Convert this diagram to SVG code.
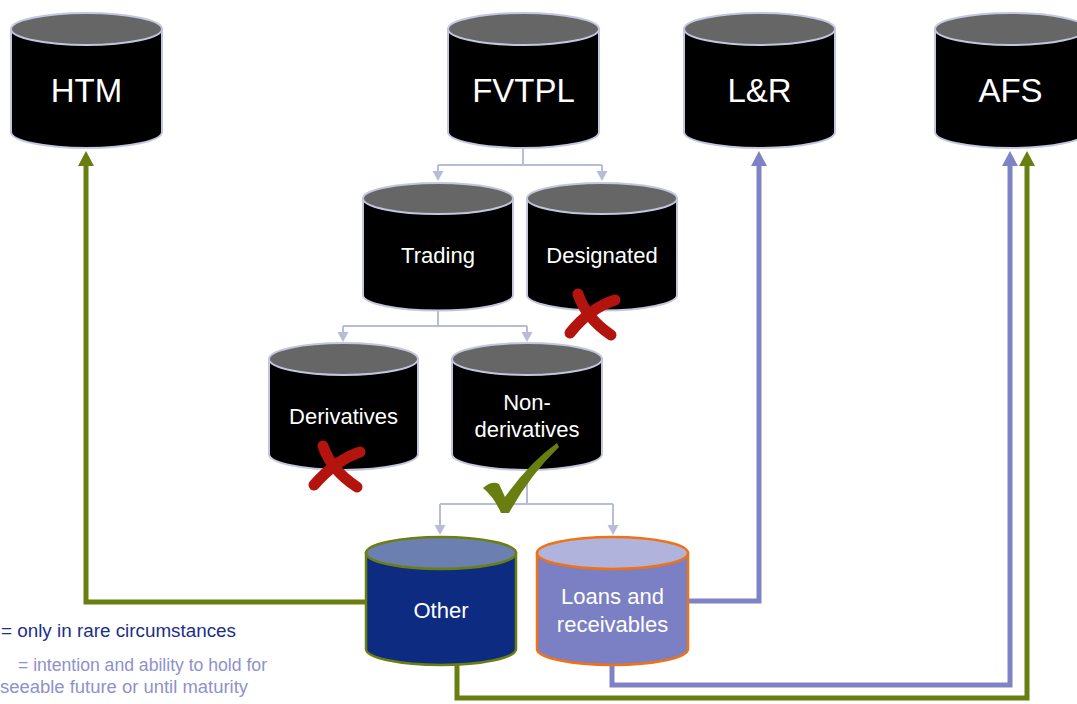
<svg xmlns="http://www.w3.org/2000/svg" width="1077" height="704" viewBox="0 0 1077 704">
<style>
.body{fill:#000;stroke:#c3c6de;stroke-width:2}
.top{fill:#666;stroke:#c3c6de;stroke-width:2}
.big{font-family:"Liberation Sans",Arial,sans-serif;font-size:33px;fill:#fff;text-anchor:middle}
.mid{font-family:"Liberation Sans",Arial,sans-serif;font-size:22px;fill:#fff;text-anchor:middle}
.thin{fill:none;stroke:#b9bcd9;stroke-width:2}
.green{fill:none;stroke:#697e10;stroke-width:5}
.purple{fill:none;stroke:#7e83c6;stroke-width:5}
.leg{font-family:"Liberation Sans",Arial,sans-serif;font-size:17.5px}
.cross{fill:none;stroke:#b3140d;stroke-width:11;stroke-linecap:round}
</style>
<defs>
<marker id="aThin" markerUnits="userSpaceOnUse" markerWidth="10" markerHeight="12" refX="0" refY="5.5" orient="auto" overflow="visible"><path d="M0,0 L10,5.5 L0,11 Z" fill="#b9bcd9"/></marker>
<marker id="aGreen" markerUnits="userSpaceOnUse" markerWidth="15" markerHeight="17" refX="0" refY="8" orient="auto" overflow="visible"><path d="M0,0 L15,8 L0,16 Z" fill="#697e10"/></marker>
<marker id="aPurple" markerUnits="userSpaceOnUse" markerWidth="15" markerHeight="17" refX="0" refY="8" orient="auto" overflow="visible"><path d="M0,0 L15,8 L0,16 Z" fill="#7e83c6"/></marker>
</defs>
<rect width="1077" height="704" fill="#fff"/>

<g id="connectors">
<path class="thin" d="M523,148 V165 M438,165 H602"/>
<path class="thin" d="M438,165 V171" marker-end="url(#aThin)"/>
<path class="thin" d="M602,165 V171" marker-end="url(#aThin)"/>
<path class="thin" d="M438,311 V326 M343,326 H527"/>
<path class="thin" d="M343,326 V332" marker-end="url(#aThin)"/>
<path class="thin" d="M527,326 V332" marker-end="url(#aThin)"/>
<path class="thin" d="M527,470 V504 M440,504 H613"/>
<path class="thin" d="M440,504 V525" marker-end="url(#aThin)"/>
<path class="thin" d="M613,504 V525" marker-end="url(#aThin)"/>
<path class="green" d="M366,602 H86 V166" marker-end="url(#aGreen)"/>
<path class="purple" d="M688,601 H759 V166" marker-end="url(#aPurple)"/>
<path class="purple" d="M612,665 V685 H1010 V166" marker-end="url(#aPurple)"/>
<path class="green" d="M457,665 V698 H1027 V166" marker-end="url(#aGreen)"/>
</g>

<g id="htm">
<path class="body" d="M11,29 V132 A75.5,16 0 0 0 162,132 V29 Z"/>
<ellipse class="top" cx="86.5" cy="29" rx="75.5" ry="16"/>
<text class="big" x="86.5" y="102">HTM</text>
</g>
<g id="fvtpl">
<path class="body" d="M448,29 V132 A75.5,16 0 0 0 599,132 V29 Z"/>
<ellipse class="top" cx="523.5" cy="29" rx="75.5" ry="16"/>
<text class="big" x="523.5" y="102">FVTPL</text>
</g>
<g id="lr">
<path class="body" d="M684,29 V132 A75.5,16 0 0 0 835,132 V29 Z"/>
<ellipse class="top" cx="759.5" cy="29" rx="75.5" ry="16"/>
<text class="big" x="759.5" y="102">L&amp;R</text>
</g>
<g id="afs">
<path class="body" d="M935,29 V132 A75.5,16 0 0 0 1086,132 V29 Z"/>
<ellipse class="top" cx="1010.5" cy="29" rx="75.5" ry="16"/>
<text class="big" x="1010.5" y="102">AFS</text>
</g>
<g id="trading">
<path class="body" d="M363,198.5 V295 A75,15.5 0 0 0 513,295 V198.5 Z"/>
<ellipse class="top" cx="438" cy="198.5" rx="75" ry="15.5"/>
<text class="mid" x="438" y="263">Trading</text>
</g>
<g id="designated">
<path class="body" d="M527,198.5 V295 A75,15.5 0 0 0 677,295 V198.5 Z"/>
<ellipse class="top" cx="602" cy="198.5" rx="75" ry="15.5"/>
<text class="mid" x="602" y="263">Designated</text>
</g>
<g id="derivatives">
<path class="body" d="M269,359 V454 A74.5,16 0 0 0 418,454 V359 Z"/>
<ellipse class="top" cx="343.5" cy="359" rx="74.5" ry="16"/>
<text class="mid" x="343.5" y="424">Derivatives</text>
</g>
<g id="nonderivatives">
<path class="body" d="M452,359 V454 A75,16 0 0 0 602,454 V359 Z"/>
<ellipse class="top" cx="527" cy="359" rx="75" ry="16"/>
<text class="mid" x="527" y="410">Non-</text>
<text class="mid" x="527" y="437">derivatives</text>
</g>
<g id="other">
<path d="M366,553 V649 A75,16 0 0 0 516,649 V553 Z" fill="#0e2b82" stroke="#6a7f10" stroke-width="2.5"/>
<ellipse cx="441" cy="553" rx="75" ry="16" fill="#6b7fb1" stroke="#6a7f10" stroke-width="2.5"/>
<text class="mid" x="441" y="618">Other</text>
</g>
<g id="loans">
<path d="M537,553 V649 A75.5,16 0 0 0 688,649 V553 Z" fill="#7a80c3" stroke="#f07214" stroke-width="2.5"/>
<ellipse cx="612.5" cy="553" rx="75.5" ry="16" fill="#b0b3dc" stroke="#f07214" stroke-width="2.5"/>
<text class="mid" x="612.5" y="604">Loans and</text>
<text class="mid" x="612.5" y="632">receivables</text>
</g>

<g id="marks">
<path class="cross" d="M578,294 Q586,318 611,335"/>
<path class="cross" d="M615,300 Q590,308 570,333"/>
<path class="cross" d="M323,446 Q331,470 357,487"/>
<path class="cross" d="M360,452 Q336,460 314,485"/>
<path d="M483,488 Q492,480 499,484 L505,497 Q530,462 557,443 L559,447 Q530,475 509,513 L501,513 Q494,497 483,488 Z" fill="#697e10"/>
</g>

<g id="legend">
<text class="leg" x="1" y="637" fill="#1b2e8a" textLength="235" lengthAdjust="spacingAndGlyphs">= only in rare circumstances</text>
<text class="leg" x="18" y="671" fill="#8e91cc" textLength="249" lengthAdjust="spacingAndGlyphs">= intention and ability to hold for</text>
<text class="leg" x="0" y="693" fill="#8e91cc" textLength="248" lengthAdjust="spacingAndGlyphs">seeable future or until maturity</text>
</g>
</svg>
